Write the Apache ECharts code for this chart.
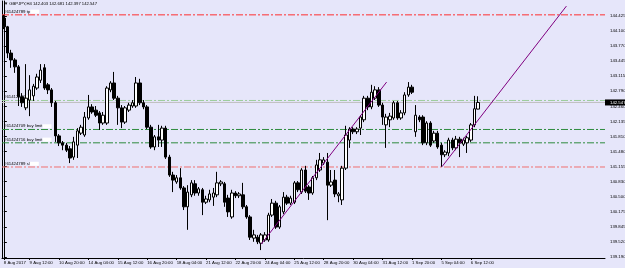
<!DOCTYPE html>
<html><head><meta charset="utf-8">
<script src="https://cdn.jsdelivr.net/npm/echarts@6/dist/echarts.min.js"></script>
<style>html,body{margin:0;padding:0;background:#E6E6FA}#c{width:625px;height:268px}</style>
</head><body><div id="c"></div>
<script>
// ---- data ----
const tradingDays = ['8 Aug','9 Aug','10 Aug','11 Aug','14 Aug','15 Aug','16 Aug','17 Aug','18 Aug','21 Aug','22 Aug','23 Aug','24 Aug','25 Aug','28 Aug','29 Aug','30 Aug','31 Aug','1 Sep','4 Sep','5 Sep','6 Sep'];
const hours = ['00:00','04:00','08:00','12:00','16:00','20:00'];
const firstBar = '8 Aug 08:00';
const tickCats = ['8 Aug 08:00','9 Aug 12:00','10 Aug 20:00','14 Aug 04:00','15 Aug 12:00','16 Aug 20:00','18 Aug 04:00','21 Aug 12:00','22 Aug 20:00','24 Aug 04:00','25 Aug 12:00','28 Aug 20:00','30 Aug 04:00','31 Aug 12:00','1 Sep 20:00','5 Sep 04:00','6 Sep 12:00'];
const tickLabels = ['8 Aug 2017','9 Aug 12:00','10 Aug 20:00','14 Aug 04:00','15 Aug 12:00','16 Aug 20:00','18 Aug 04:00','21 Aug 12:00','22 Aug 20:00','24 Aug 04:00','25 Aug 12:00','28 Aug 20:00','30 Aug 04:00','31 Aug 12:00','1 Sep 20:00','5 Sep 04:00','6 Sep 12:00'];
const priceTicks = [139.190,139.520,139.845,140.175,140.500,140.830,141.155,141.480,141.810,142.135,142.460,142.790,143.115,143.445,143.770,144.100,144.425];

const open = [144.38,144.19,143.62,143.47,143.32,142.67,142.43,142.60,142.69,142.86,
143.03,143.30,142.93,142.82,142.54,141.82,141.67,141.62,141.54,141.36,
141.62,141.88,141.84,142.21,142.45,142.38,142.32,142.10,142.10,142.82,
142.97,142.64,142.43,142.12,142.38,142.47,142.47,142.97,142.54,142.45,
142.01,141.58,141.80,141.73,141.99,141.36,140.97,140.82,140.91,140.69,
140.28,140.54,140.78,140.58,140.65,140.38,140.43,140.49,140.54,140.78,
140.78,140.47,140.06,140.58,140.52,140.54,140.28,140.06,139.60,139.62,
139.49,139.56,139.56,140.10,140.36,139.84,140.17,140.49,140.36,140.38,
140.80,140.60,141.08,140.71,140.58,140.91,141.08,141.23,141.25,140.75,
140.86,140.52,140.43,141.12,141.73,141.97,141.91,141.99,142.17,142.64,
142.45,142.64,142.82,142.49,142.06,142.17,142.21,142.54,142.21,142.32,
142.71,142.88,141.91,142.23,142.23,141.67,142.10,141.71,141.88,141.62,
141.41,141.45,141.73,141.56,141.75,141.64,141.67,141.73,142.06,142.403];
const close = [144.19,143.62,143.47,143.32,142.67,142.54,142.64,142.82,142.90,143.10,
143.25,142.86,142.82,142.54,141.82,141.67,141.62,141.51,141.34,141.69,
141.93,142.01,142.23,142.45,142.34,142.27,142.10,142.27,142.86,142.97,
142.64,142.43,142.12,142.43,142.49,142.54,142.97,142.54,142.45,142.01,
141.58,141.80,141.73,141.99,141.36,140.97,140.86,140.91,140.69,140.28,
140.60,140.80,140.58,140.67,140.38,140.45,140.56,140.58,140.80,140.82,
140.38,140.17,140.58,140.52,140.56,140.28,140.06,139.62,139.67,139.52,
139.67,139.67,140.10,140.36,139.84,140.28,140.49,140.36,140.47,140.80,
140.65,141.08,140.62,140.58,140.91,141.19,141.30,141.30,140.75,140.82,
140.56,140.56,141.12,141.84,141.97,141.91,141.97,142.23,142.64,142.45,
142.77,142.82,142.49,142.23,142.23,142.25,142.54,142.21,142.32,142.71,
142.88,142.77,142.27,142.17,141.67,142.10,141.62,141.88,141.58,141.41,
141.47,141.73,141.56,141.75,141.67,141.73,141.78,142.06,142.41,142.547];
const low = [144.14,143.51,143.30,143.19,142.47,142.45,142.38,142.25,142.58,142.82,
142.97,142.82,142.73,142.45,141.69,141.60,141.51,141.47,141.23,141.30,
141.34,141.84,141.80,142.17,142.30,142.23,141.95,142.06,142.06,142.77,
142.60,142.06,141.99,142.08,142.34,142.43,142.43,142.49,142.40,141.97,
141.54,141.51,141.58,141.58,141.32,140.93,140.60,140.78,140.65,140.21,
139.78,140.49,140.52,140.52,140.10,140.34,140.38,140.30,140.49,140.73,
140.28,140.06,140.02,140.47,140.47,140.23,140.02,139.56,139.52,139.47,
139.34,139.52,139.52,140.06,139.80,139.80,140.12,140.32,140.32,140.34,
140.60,140.56,140.58,140.43,140.54,140.86,141.04,141.19,139.99,140.71,
140.49,140.38,140.32,141.08,141.56,141.86,141.86,141.84,142.12,142.38,
142.40,142.60,142.45,142.06,141.56,142.01,142.17,142.17,142.17,142.27,
142.67,142.73,141.80,142.12,141.62,141.62,141.58,141.67,141.54,141.15,
141.36,141.38,141.51,141.51,141.36,141.60,141.45,141.69,142.01,142.397];
const high = [144.45,144.21,143.69,143.51,143.36,142.75,143.38,143.14,142.95,143.17,
143.38,143.38,142.97,142.86,142.58,141.86,141.71,141.67,141.60,141.80,
141.99,142.06,142.34,142.71,142.51,142.47,142.36,142.34,142.90,143.01,
143.21,142.69,142.49,142.47,142.54,142.60,143.10,143.06,142.60,142.49,
142.06,141.84,142.06,142.04,142.04,141.41,141.04,140.97,141.12,140.73,
140.75,140.86,140.86,140.71,140.69,140.52,140.65,140.69,141.04,140.86,
140.82,140.54,140.65,140.62,140.60,140.80,140.32,140.10,139.78,139.67,
139.71,139.73,140.15,140.45,140.41,140.32,140.60,140.54,140.52,140.84,
140.84,141.12,141.17,140.75,140.95,141.30,141.45,141.36,141.45,141.08,
141.08,140.60,141.17,142.04,142.01,142.01,142.01,142.27,142.69,142.69,
142.93,142.90,142.88,142.54,142.30,142.32,142.58,142.58,142.38,142.77,
142.99,142.93,142.49,142.27,142.27,142.14,142.14,141.93,141.93,141.67,
141.51,141.78,141.78,141.82,141.80,141.78,141.82,142.10,142.69,142.681];

// trend lines: [bar position, price]
const trend1 = [[70.0,139.47],[104.1,142.99]];
const trend2 = [[119.15,141.15],[153.0,144.64]];

// order levels
const levelNames  = ['#61424789 tp','#61412630','#61424709 buy limit','#61424716 buy limit','#61424789 sl'];
const levelPrices = [144.45,142.59,141.96,141.67,141.145];
const levelColors = ['#ff3030','#9ccc9c','#2e8b3e','#2e8b3e','#f07070'];
const bidPrice = 142.547;
const titleText = '\u25BC GBPJPY,H4 142.403 142.681 142.397 142.547';

// ---- build ----
const TOTAL = 164;
const categories = [];
tradingDays.forEach(d => hours.forEach(h => categories.push(d + ' ' + h)));
categories.splice(0, categories.indexOf(firstBar));
const nBars = open.length;
categories.length = nBars;
for (let i = nBars; i < TOTAL; i++) categories.push('_' + i);
const candles = open.map((o, i) => [o, close[i], low[i], high[i]]);

const FONT = 'Liberation Sans';
const FS = 4.3;
const X0 = -0.5, X1 = TOTAL - 0.5;
const chart = echarts.init(document.getElementById('c'), null, {renderer: 'canvas'});

// level lines as line series across the plot; label on the first point
const levelSeries = [];
levelNames.forEach((n, i) => {
  levelSeries.push({
    type: 'line', name: 'lvl' + i, xAxisIndex: 1, yAxisIndex: 0, silent: true, z: 2,
    symbol: 'circle', symbolSize: 0.01, showSymbol: true,
    itemStyle: {color: levelColors[i]},
    lineStyle: {color: levelColors[i], type: [7, 2, 2, 2], width: 1},
    data: [
      {value: [X0, levelPrices[i]], label: {
        show: true, position: 'right', distance: 2, offset: [0, -3.2],
        formatter: '{t|' + n + '}{w|}',
        rich: {
          t: {fontSize: FS, color: '#000', fontFamily: FONT},
          w: {backgroundColor: '#fff', width: 9, height: 4}
        }
      }},
      [X1, levelPrices[i]]
    ]
  });
});
levelSeries.push({
  type: 'line', name: 'bid', xAxisIndex: 1, yAxisIndex: 0, silent: true, z: 1,
  symbol: 'circle', symbolSize: 0.01, showSymbol: true,
  itemStyle: {color: '#c0c0c0'},
  lineStyle: {color: '#c0c0c0', type: 'solid', width: 1},
  data: [
    [X0, bidPrice],
    {value: [X1, bidPrice], label: {
      show: true, position: 'right', distance: 0,
      formatter: bidPrice.toFixed(3),
      backgroundColor: '#000', color: '#fff', fontSize: FS, fontFamily: FONT,
      padding: [1, 3, 1, 5]
    }}
  ]
});

chart.setOption({
  animation: false,
  backgroundColor: '#E6E6FA',
  textStyle: {fontFamily: FONT},
  graphic: [{
    type: 'text', left: 4, top: 2,
    style: {text: titleText, fontSize: 4.2, fill: '#000', fontFamily: FONT}
  }],
  grid: {left: 2, right: 20, top: 1, bottom: 10, outerBoundsMode: 'none', containLabel: false},
  xAxis: [{
    type: 'category', data: categories, boundaryGap: true,
    axisLine: {show: true, lineStyle: {color: '#000', width: 1}},
    axisTick: {show: true, alignWithLabel: true, length: 2, lineStyle: {color: '#000'},
      interval: (i, v) => tickCats.indexOf(v) >= 0},
    axisLabel: {
      show: true, fontSize: FS, color: '#000', margin: 2.5, align: 'left', hideOverlap: false,
      interval: (i, v) => tickCats.indexOf(v) >= 0,
      formatter: (v) => { const k = tickCats.indexOf(v); return k >= 0 ? tickLabels[k] : ''; }
    },
    splitLine: {show: false}
  }, {
    type: 'value', min: X0, max: X1, show: false
  }],
  yAxis: [{
    type: 'value', position: 'right', min: 139.168, max: 144.751, scale: true,
    axisLine: {show: true, lineStyle: {color: '#000', width: 1}},
    axisTick: {show: true, length: 3, lineStyle: {color: '#000'}, customValues: priceTicks},
    axisLabel: {show: true, fontSize: FS, color: '#000', margin: 5, hideOverlap: false,
      customValues: priceTicks, formatter: v => v.toFixed(3)},
    splitLine: {show: false}
  }, {
    type: 'value', position: 'left', min: 139.168, max: 144.751,
    axisLine: {show: true, onZero: false, lineStyle: {color: '#000', width: 1}},
    axisTick: {show: false}, axisLabel: {show: false}, splitLine: {show: false}
  }],
  series: [{
    type: 'candlestick', name: 'GBPJPY', xAxisIndex: 0, yAxisIndex: 0, z: 3,
    data: candles, barWidth: 3,
    itemStyle: {color: '#ffffff', color0: '#000000', borderColor: '#000000', borderColor0: '#000000', borderWidth: 1}
  }, {
    type: 'line', name: 'trend1', xAxisIndex: 1, yAxisIndex: 0, data: trend1, symbol: 'none', z: 4,
    itemStyle: {color: '#800080'}, lineStyle: {color: '#800080', width: 1}, silent: true
  }, {
    type: 'line', name: 'trend2', xAxisIndex: 1, yAxisIndex: 0, data: trend2, symbol: 'none', z: 4,
    itemStyle: {color: '#800080'}, lineStyle: {color: '#800080', width: 1}, silent: true
  }].concat(levelSeries)
});
</script></body></html>
